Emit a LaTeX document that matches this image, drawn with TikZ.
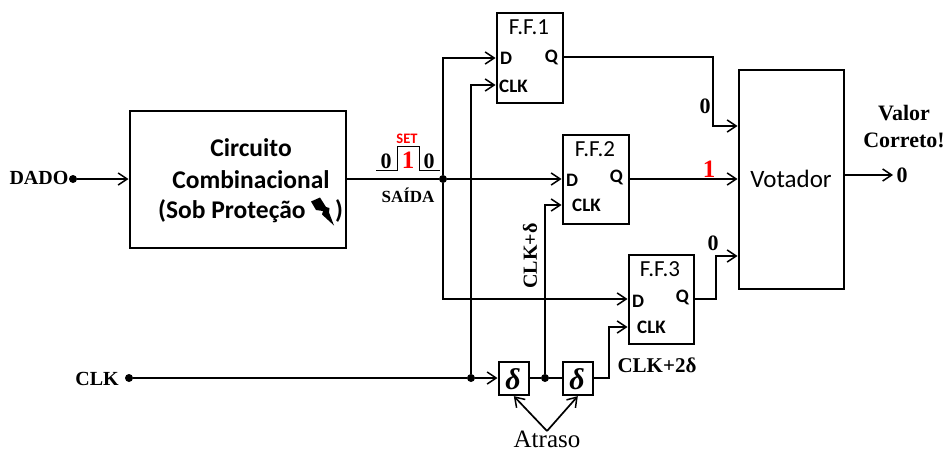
\documentclass[tikz,border=0pt]{standalone}
\usepackage{fontspec}
\setmainfont{Liberation Serif}
\newfontfamily\calfont{Carlito}
\usetikzlibrary{arrows.meta}
\tikzset{
  block/.style={draw=black,line width=2.6pt,anchor=north west,inner sep=0pt,fill=white},
  sig/.style={draw=black,line width=1.7pt},
  arr/.style={sig,-{Straight Barb[length=9pt,width=12pt,line width=1.5pt]}},
  wave/.style={draw=black,line width=1pt},
  dot/.style={circle,fill=black,inner sep=0pt,minimum size=8pt},
  lab/.style={inner sep=0pt,font=\fontsize{20}{20}\selectfont\bfseries},
  big/.style={inner sep=0pt,font=\calfont\fontsize{25.5}{25.5}\selectfont\bfseries},
  pin/.style={inner sep=0pt,font=\calfont\fontsize{19}{19}\selectfont\bfseries},
  fft/.style={inner sep=0pt,font=\calfont\fontsize{23}{23}\selectfont},
  del/.style={inner sep=0pt,font=\fontsize{30}{30}\selectfont\bfseries\itshape},
  val/.style={inner sep=0pt,font=\fontsize{22}{22}\selectfont\bfseries},
  valr/.style={inner sep=0pt,text=red,font=\fontsize{25}{25}\selectfont\bfseries}
}
\begin{document}
\begin{tikzpicture}[x=1pt,y=-1pt]
\useasboundingbox (0,0) rectangle (947,450);
% blocks
\node[block,minimum width=216pt,minimum height=137pt] (cc) at (128.5,109.5) {};
\node[block,minimum width=66pt,minimum height=90pt] (ff1) at (495.5,11.5) {};
\node[block,minimum width=66pt,minimum height=89pt] (ff2) at (561.5,133.5) {};
\node[block,minimum width=65pt,minimum height=89pt] (ff3) at (627.5,253.5) {};
\node[block,minimum width=105pt,minimum height=219pt] (vot) at (737.5,68.5) {};
\node[block,minimum width=30pt,minimum height=33pt] (d1) at (497.5,360.5) {};
\node[block,minimum width=30pt,minimum height=33pt] (d2) at (561.5,360.5) {};
% texts
\node[big] at (251,148) {Circuito};
\node[big] at (251,179.5) {Combinacional};
\node[big,anchor=west] (prot) at (158,211) {(Sob Proteção};
\node[big] (par) at (339,211) {)};
\fill (311,201.5) -- (320,197.5) -- (326,207) -- (329.5,208) -- (329,212.5) -- (334,225.5) -- (322,214.5) -- (323,211) -- (316,210) -- cycle;
\node[fft] at (529,27) {F.F.1};
\node[pin,anchor=west] (d1t) at (500,58) {D};
\node[pin,anchor=west] (c1t) at (499,86) {CLK};
\node[pin,anchor=east] (q1t) at (558,57) {Q};
\node[fft] at (595,149) {F.F.2};
\node[pin,anchor=west] (d2t) at (566,180) {D};
\node[pin,anchor=west] (c2t) at (572,205) {CLK};
\node[pin,anchor=east] (q2t) at (623,177) {Q};
\node[fft] at (660,269) {F.F.3};
\node[pin,anchor=west] (d3t) at (632,301) {D};
\node[pin,anchor=west] (c3t) at (637,327) {CLK};
\node[pin,anchor=east] (q3t) at (689,297) {Q};
\node[inner sep=0pt,font=\calfont\fontsize{25}{25}\selectfont] at (791,179) {Votador};
\node[del] at (513,379) {δ};
\node[del] at (577,379) {δ};
\node[lab] (dado) at (39,178) {DADO};
\node[lab] (clk) at (97,379) {CLK};
\node[lab,font=\fontsize{17}{17}\selectfont\bfseries] (saida) at (408,195) {SAÍDA};
\node[lab,font=\fontsize{21}{21}\selectfont\bfseries] at (657,365) {CLK+2δ};
\node[lab,rotate=90] at (530,256) {CLK+δ};
\node[val] at (904,113) {Valor};
\node[val] at (904,140) {Correto!};
\node[val] (out0) at (902,175) {0};
\node[val] at (386,161) {0};
\node[valr] at (408,160) {1};
\node[val] at (429,161) {0};
\node[inner sep=0pt,text=red,font=\calfont\fontsize{14.5}{14.5}\selectfont\bfseries] at (407,139) {SET};
\node[val] at (705,106) {0};
\node[valr] at (709,169) {1};
\node[val] at (713,243) {0};
\node[inner sep=0pt,font=\fontsize{25}{25}\selectfont] (atr) at (547,439) {Atraso};
% junctions and free ends
\node[dot] (j1) at (443,179) {};
\node[dot] (j2) at (471,378) {};
\node[dot] (j3) at (545,378) {};
\node[dot] (clkd) at (129,378) {};
\node[dot] (dadod) at (73,179) {};
\coordinate (atrt) at (547,431);
\coordinate (vout) at (893,175);
% connectors
\draw[arr] (dadod) -- (dadod -| cc.west);
\draw[sig] (j1 -| cc.east) -- (j1);
\draw[arr] (j1) -- (j1 -| ff2.west);
\draw[arr] (j1) |- (ff1.west |- d1t.west);
\draw[arr] (j1) |- (ff3.west |- 0,299);
\draw[sig] (clkd) -- (j2);
\draw[arr] (j2) -- (d1.west |- j2);
\draw[arr] (j2) |- (ff1.west |- 0,85);
\draw[sig] (d1.east |- j3) -- (j3);
\draw[sig] (j3) -- (d2.west |- j3);
\draw[arr] (j3) |- (ff2.west |- 0,205);
\draw[arr] (d2.east |- 0,378) -| (609,327) -- (ff3.west |- 0,327);
\draw[arr] (ff1.east |- 0,57) -| (713,126) -- (vot.west |- 0,126);
\draw[arr] (ff2.east |- 0,179) -- (vot.west |- 0,179);
\draw[arr] (ff3.east |- 0,299) -| (716,256) -- (vot.west |- 0,256);
\draw[arr] (vot.east |- vout) -- (vout);
\draw[arr] (atrt) -- (d1.south);
\draw[arr] (atrt) -- (d2.south);
% set pulse
\draw[wave] (376,170) -- (397,170) -- (397,146) -- (419,146) -- (419,170) -- (440,170);
\end{tikzpicture}
\end{document}
